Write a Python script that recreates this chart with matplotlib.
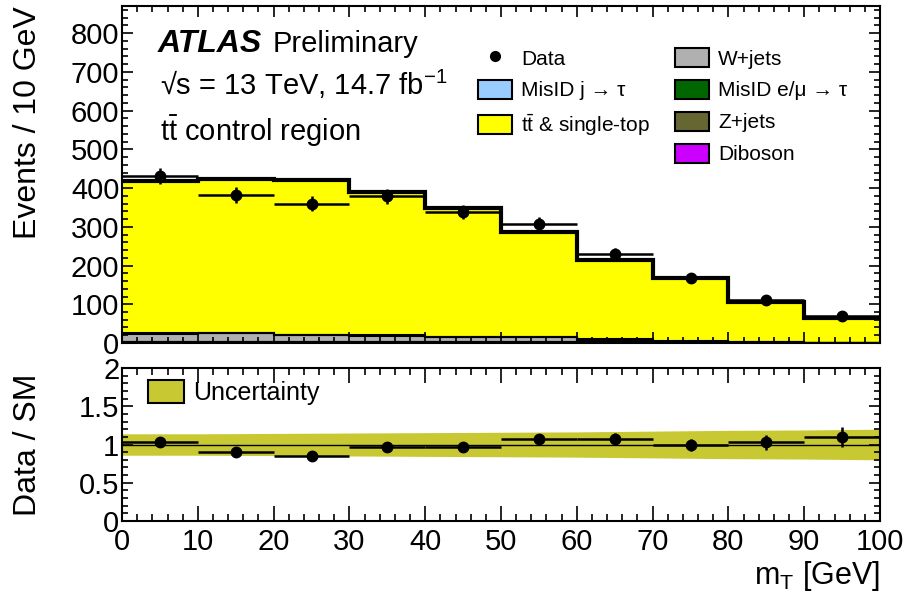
import numpy as np
import matplotlib
matplotlib.use('Agg')
import matplotlib.pyplot as plt
from matplotlib.patches import Patch
from matplotlib.lines import Line2D
from matplotlib.ticker import MultipleLocator

plt.rcParams['font.family'] = ['Liberation Sans', 'DejaVu Sans']
plt.rcParams['mathtext.fontset'] = 'custom'
plt.rcParams['mathtext.rm'] = 'Liberation Sans'
plt.rcParams['mathtext.it'] = 'Liberation Sans:italic'
plt.rcParams['mathtext.bf'] = 'Liberation Sans:bold'

# m_T bins [GeV]
edges = np.arange(0, 101, 10)
centres = 0.5 * (edges[:-1] + edges[1:])

# observed events per bin
data = np.array([432, 382, 360, 379, 338, 308, 229, 168, 110, 70])

# background components, bottom of the stack first
diboson = np.array([0.5, 0.5, 0.5, 0.5, 0.4, 0.4, 0.3, 0.2, 0.1, 0.1])
zjets = np.array([2.0, 2.0, 2.0, 2.0, 1.5, 1.5, 1.0, 0.5, 0.3, 0.2])
misid_lep = np.array([1.0, 1.0, 1.0, 1.0, 1.0, 1.0, 0.5, 0.3, 0.2, 0.1])
wjets = np.array([20.5, 22.5, 16.5, 15.5, 12.1, 12.1, 7.2, 2.5, 1.0, 0.5])
misid_jet = np.array([1.0, 1.0, 1.0, 1.0, 1.0, 1.0, 0.5, 0.5, 0.4, 0.1])
total = np.array([419, 423, 421, 391, 349, 287, 213, 169, 107, 64])
ttbar = total - diboson - zjets - misid_lep - wjets - misid_jet

# relative uncertainty on the prediction at each bin edge
unc = np.array([0.14, 0.14, 0.145, 0.15, 0.155, 0.16, 0.165, 0.175, 0.185, 0.19, 0.20])

components = [
    (diboson, '#cc00ff'),
    (zjets, '#666633'),
    (misid_lep, '#006600'),
    (wjets, '#b0b0b0'),
    (misid_jet, '#99ccff'),
    (ttbar, '#ffff00'),
]

fig = plt.figure(figsize=(9.06, 5.93), dpi=100)
ax = fig.add_axes([0.1347, 0.4216, 0.8366, 0.5683])
rax = fig.add_axes([0.1347, 0.1214, 0.8366, 0.2580])

# stacked prediction
bottom = np.zeros(len(centres))
for vals, col in components:
    ax.stairs(bottom + vals, edges, baseline=bottom, fill=True,
              facecolor=col, edgecolor='none', zorder=1)
    ax.stairs(bottom + vals, edges, baseline=None, color='k', lw=1.5, zorder=2)
    bottom = bottom + vals
ax.stairs(total, edges, baseline=None, color='k', lw=3, zorder=3)

ax.errorbar(centres, data, xerr=5, yerr=np.sqrt(data), fmt='o', color='k',
            ms=7.5, lw=1.8, capsize=0, zorder=4)

ax.set_xlim(0, 100)
ax.set_ylim(0, 870)
ax.set_ylabel('Events / 10 GeV', fontsize=23, loc='top')
ax.set_xticklabels([])

ax.text(0.047, 0.862, 'ATLAS', transform=ax.transAxes, fontsize=23,
        fontweight='bold', fontstyle='italic')
ax.text(0.199, 0.862, 'Preliminary', transform=ax.transAxes, fontsize=21)
ax.text(0.05, 0.735, '√s = 13 TeV, 14.7 fb$^{\\mathregular{-1}}$',
        transform=ax.transAxes, fontsize=21)
ax.text(0.05, 0.60, r't$\bar{\mathrm{t}}$ control region',
        transform=ax.transAxes, fontsize=21)

lkw = dict(frameon=False, fontsize=15, handlelength=1.6, handleheight=1.0,
           handletextpad=0.45, labelspacing=0.55, borderpad=0,
           borderaxespad=0, loc='upper left')
h1 = [Line2D([], [], ls='none', marker='o', color='k', ms=7),
      Patch(facecolor='#99ccff', edgecolor='k', lw=1.5),
      Patch(facecolor='#ffff00', edgecolor='k', lw=1.5)]
l1 = ax.legend(h1, ['Data', 'MisID j → τ',
                    r't$\bar{\mathrm{t}}$ & single-top'],
               bbox_to_anchor=(0.47, 0.875), **lkw)
ax.add_artist(l1)
h2 = [Patch(facecolor=c, edgecolor='k', lw=1.5)
      for c in ['#b0b0b0', '#006600', '#666633', '#cc00ff']]
ax.legend(h2, ['W+jets', 'MisID e/μ → τ', 'Z+jets', 'Diboson'],
          bbox_to_anchor=(0.73, 0.875), **lkw)

# ratio panel
ratio = data / total
rerr = np.sqrt(data) / total
rax.fill_between(edges, 1 - unc, 1 + unc, color='#c8c832', lw=0, zorder=1)
rax.axhline(1, color='k', lw=1, zorder=2)
rax.errorbar(centres, ratio, xerr=5, yerr=rerr, fmt='o', color='k',
             ms=7.5, lw=1.8, capsize=0, zorder=4)
rax.set_xlim(0, 100)
rax.set_ylim(0, 2)
rax.set_ylabel('Data / SM', fontsize=23)
rax.set_xlabel(r'm$_{\mathrm{T}}$ [GeV]', fontsize=22, loc='right', labelpad=2)
rax.legend([Patch(facecolor='#c8c832', edgecolor='k', lw=1.5)], ['Uncertainty'],
           frameon=False, fontsize=18, handlelength=1.45, handleheight=1.0,
           handletextpad=0.35, borderpad=0, borderaxespad=0, loc='upper left',
           bbox_to_anchor=(0.034, 0.92))

for a in (ax, rax):
    a.xaxis.set_major_locator(MultipleLocator(10))
    a.xaxis.set_minor_locator(MultipleLocator(2))
    a.tick_params(which='both', direction='in', top=True, right=True,
                  labelsize=21, width=1.2)
    a.tick_params(axis='y', pad=2)
    a.tick_params(axis='x', pad=5)
    for s in a.spines.values():
        s.set_linewidth(1.5)
ax.yaxis.set_major_locator(MultipleLocator(100))
ax.yaxis.set_minor_locator(MultipleLocator(20))
ax.tick_params(which='major', length=8)
ax.tick_params(which='minor', length=4.5)
rax.yaxis.set_major_locator(MultipleLocator(0.5))
rax.yaxis.set_minor_locator(MultipleLocator(0.1))
rax.tick_params(which='major', length=8)
rax.tick_params(which='minor', length=4.5)
rax.tick_params(axis='x', which='major', length=11)
rax.tick_params(axis='x', which='minor', length=5)
rax.set_yticks([0, 0.5, 1, 1.5, 2])
rax.set_yticklabels(['0', '0.5', '1', '1.5', '2'])

ax.yaxis.set_label_coords(-0.104, 1.0)
rax.yaxis.set_label_coords(-0.104, 0.5)

fig.savefig('out.png', dpi=100)
